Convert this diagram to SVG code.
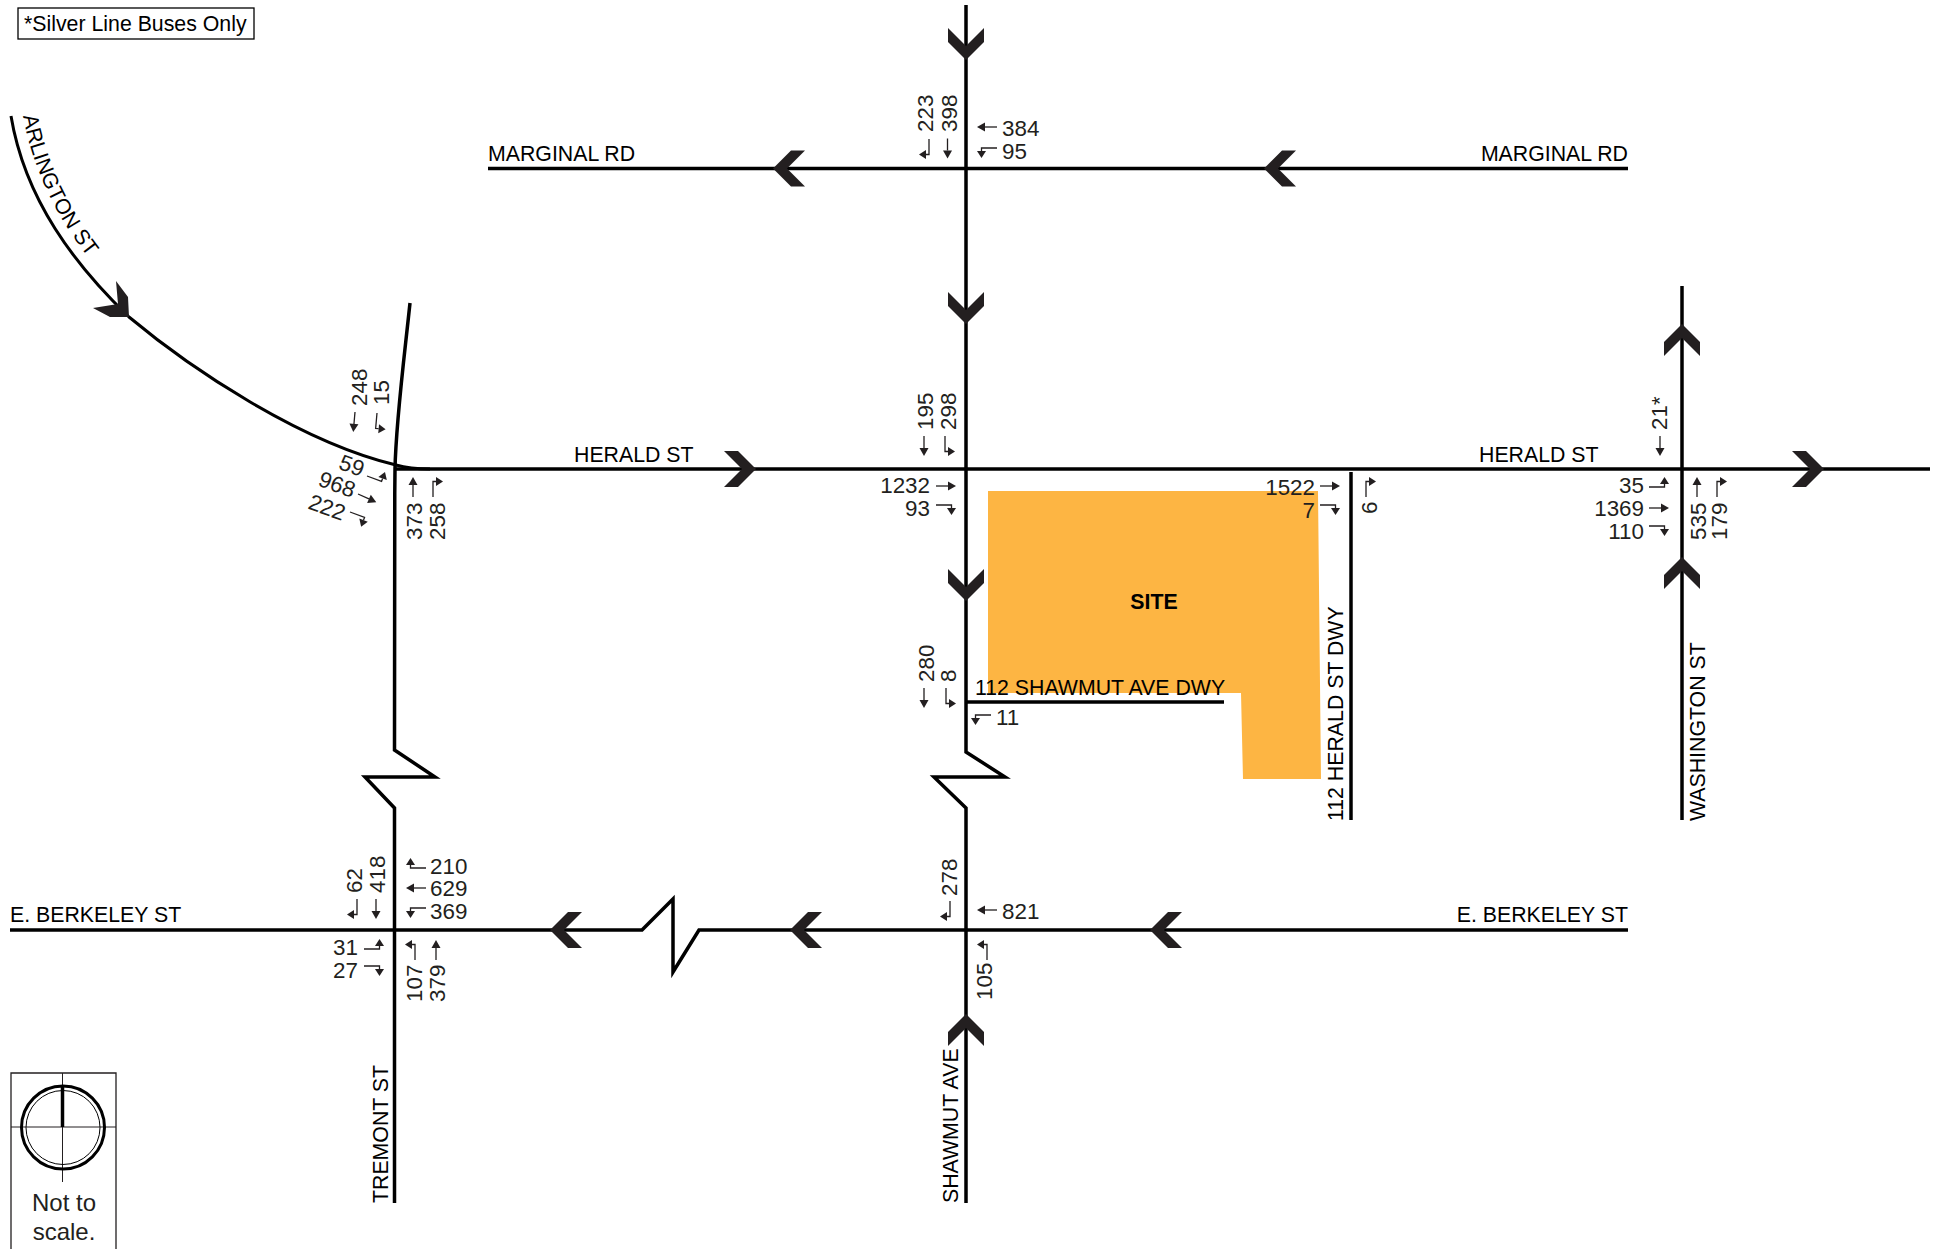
<svg xmlns="http://www.w3.org/2000/svg" width="1939" height="1249" viewBox="0 0 1939 1249">
<style>
text{font-family:"Liberation Sans",Arial,sans-serif;font-size:22.400px;fill:#231f20}
.l{font-size:21.300px;fill:#000}
.e{text-anchor:end}
.road{fill:none;stroke:#000;stroke-width:3.5;stroke-linejoin:miter}
.sa{fill:none;stroke:#231f20;stroke-width:1.3}
.sh{fill:#231f20;stroke:none}
.chev{fill:#231f20}
</style>
<defs>
<polygon id="cv" class="chev" points="0,0 -18,-18 -18,-32 0,-14 18,-32 18,-18"/>
<g id="th"><path class="sa" d="M0 0H12"/><polygon class="sh" points="12,-4.500 20,0 12,4.500"/></g>
<g id="tr"><path class="sa" d="M0 0H15.500V3"/><polygon class="sh" points="11,3 20,3 15.500,10"/></g>
</defs>
<rect width="1939" height="1249" fill="#fff"/>
<g id="site"><polygon points="988,491 1318,491 1321,779 1243,779 1241,693 988,693" fill="#fdb543"/><text x="1154" y="609" text-anchor="middle" style="font-weight:bold" class="l">SITE</text></g>
<g id="connectors">
<path class="road" d="M966 5V752L1005 777H934L966 808V1203"/>
<path class="road" d="M488 168.500H1628"/>
<path class="road" d="M396 469H1930"/>
<path class="road" d="M410 303C404 360 396 420 395 469C394 560 394.500 650 394.500 750L435 777H365L394.500 808V1203"/>
<path class="road" d="M10 930H642L673 899V972L699 930H1628"/>
<path class="road" d="M1682 286V820"/>
<path class="road" d="M1351 472V820"/>
<path class="road" d="M966 702H1224"/>
<path class="road" style="stroke-width:3" d="M11 116C25 200 75 265 129 317C190 368 300 442 396 465Q410 469 430 469"/>
</g>
<g id="chevrons">
<use href="#cv" x="966" y="60"/><use href="#cv" x="966" y="324"/><use href="#cv" x="966" y="601"/>
<use href="#cv" transform="translate(966,1014) rotate(180)"/>
<use href="#cv" transform="translate(1682,324) rotate(180)"/><use href="#cv" transform="translate(1682,557) rotate(180)"/>
<use href="#cv" transform="translate(773,168.500) rotate(90)"/><use href="#cv" transform="translate(1264,168.500) rotate(90)"/>
<use href="#cv" transform="translate(550,930) rotate(90)"/><use href="#cv" transform="translate(790,930) rotate(90)"/><use href="#cv" transform="translate(1150,930) rotate(90)"/>
<use href="#cv" transform="translate(756,469) rotate(-90)"/><use href="#cv" transform="translate(1824,469) rotate(-90)"/>
<polygon class="chev" points="129,317 128,297 116,281 118,304 93,308 110,317"/>
</g>
<g id="road-labels">
<text class="l" x="488" y="161">MARGINAL RD</text>
<text class="l e" x="1628" y="161">MARGINAL RD</text>
<text class="l" x="574" y="462">HERALD ST</text>
<text class="l" x="1479" y="462">HERALD ST</text>
<text class="l" x="10" y="922">E. BERKELEY ST</text>
<text class="l e" x="1628" y="922">E. BERKELEY ST</text>
<text class="l" transform="translate(388,1203) rotate(-90)">TREMONT ST</text>
<text class="l" transform="translate(958,1203) rotate(-90)">SHAWMUT AVE</text>
<text class="l" transform="translate(1705,821) rotate(-90)">WASHINGTON ST</text>
<text class="l" transform="translate(1343,821) rotate(-90)">112 HERALD ST DWY</text>
<text class="l" x="975" y="695">112 SHAWMUT AVE DWY</text>
<path id="arl" fill="none" d="M23 116C32 165 54 215 92 262"/>
<text class="l"><textPath href="#arl">ARLINGTON ST</textPath></text>
</g>
<g id="marginal-shawmut">
<text transform="translate(933,132) rotate(-90)">223</text><text transform="translate(957,132) rotate(-90)">398</text>
<use href="#tr" transform="translate(929,139) rotate(90)"/><use href="#th" transform="translate(947.500,138.500) rotate(90)"/>
<use href="#th" transform="translate(997,127) rotate(180)"/><text x="1002" y="136">384</text>
<use href="#tr" transform="translate(997,148) scale(-1,1)"/><text x="1002" y="159">95</text>
</g>
<g id="herald-tremont">
<text transform="translate(367,406) rotate(-90)">248</text><text transform="translate(389,405) rotate(-90)">15</text>
<use href="#th" transform="translate(355,412) rotate(95)"/><use href="#tr" transform="translate(377,413) rotate(95) scale(1,-1)"/>
<text class="e" transform="translate(361,477) rotate(20)">59</text><text class="e" transform="translate(352,498) rotate(20)">968</text><text class="e" transform="translate(342,521) rotate(20)">222</text>
<use href="#tr" transform="translate(367,476) rotate(20) scale(1,-1)"/><use href="#th" transform="translate(358,494) rotate(24)"/><use href="#tr" transform="translate(350,512) rotate(20)"/>
<text transform="translate(421.500,540) rotate(-90)">373</text><text transform="translate(444.500,540) rotate(-90)">258</text>
<use href="#th" transform="translate(413,497) rotate(-90)"/><use href="#tr" transform="translate(433,497) rotate(-90)"/>
</g>
<g id="herald-shawmut">
<text transform="translate(933,430) rotate(-90)">195</text><text transform="translate(956,430) rotate(-90)">298</text>
<use href="#th" transform="translate(924,436) rotate(90)"/><use href="#tr" transform="translate(945,436) rotate(90) scale(1,-1)"/>
<text class="e" x="930" y="493">1232</text><use href="#th" transform="translate(936,486)"/>
<text class="e" x="930" y="516">93</text><use href="#tr" transform="translate(936,505)"/>
</g>
<g id="shawmut-dwy">
<text transform="translate(934,682) rotate(-90)">280</text><text transform="translate(956,682) rotate(-90)">8</text>
<use href="#th" transform="translate(924,688) rotate(90)"/><use href="#tr" transform="translate(946,688) rotate(90) scale(1,-1)"/>
<use href="#tr" transform="translate(991,715) scale(-1,1)"/><text x="996" y="725">11</text>
</g>
<g id="herald-dwy">
<text class="e" x="1315" y="495">1522</text><use href="#th" transform="translate(1320,486)"/>
<text class="e" x="1315" y="518">7</text><use href="#tr" transform="translate(1320,505)"/>
<text transform="translate(1377,514) rotate(-90)">6</text><use href="#tr" transform="translate(1366,497) rotate(-90)"/>
</g>
<g id="herald-washington">
<text transform="translate(1667,430) rotate(-90)">21*</text><use href="#th" transform="translate(1660,436) rotate(90)"/>
<text class="e" x="1644" y="493">35</text><use href="#tr" transform="translate(1649,487) scale(1,-1)"/>
<text class="e" x="1644" y="516">1369</text><use href="#th" transform="translate(1649,508)"/>
<text class="e" x="1644" y="539">110</text><use href="#tr" transform="translate(1649,526)"/>
<text transform="translate(1705.500,540) rotate(-90)">535</text><text transform="translate(1727,540) rotate(-90)">179</text>
<use href="#th" transform="translate(1697,497) rotate(-90)"/><use href="#tr" transform="translate(1717,497) rotate(-90)"/>
</g>
<g id="berkeley-tremont">
<text transform="translate(362,893) rotate(-90)">62</text><text transform="translate(385,893) rotate(-90)">418</text>
<use href="#tr" transform="translate(357,899) rotate(90)"/><use href="#th" transform="translate(376,899) rotate(90)"/>
<text x="430" y="874">210</text><use href="#tr" transform="translate(426,868) rotate(180)"/>
<text x="430" y="896">629</text><use href="#th" transform="translate(426,888) rotate(180)"/>
<text x="430" y="919">369</text><use href="#tr" transform="translate(426,908) scale(-1,1)"/>
<text class="e" x="358" y="955">31</text><use href="#tr" transform="translate(364,949) scale(1,-1)"/>
<text class="e" x="358" y="978">27</text><use href="#tr" transform="translate(364,966)"/>
<text transform="translate(421.500,1002) rotate(-90)">107</text><text transform="translate(444.500,1002) rotate(-90)">379</text>
<use href="#tr" transform="translate(415,960) rotate(-90) scale(1,-1)"/><use href="#th" transform="translate(436,960) rotate(-90)"/>
</g>
<g id="berkeley-shawmut">
<text transform="translate(957,896) rotate(-90)">278</text><use href="#tr" transform="translate(950,901) rotate(90)"/>
<use href="#th" transform="translate(997,910) rotate(180)"/><text x="1002" y="919">821</text>
<text transform="translate(992,1000) rotate(-90)">105</text><use href="#tr" transform="translate(987,960) rotate(-90) scale(1,-1)"/>
</g>
<g id="note"><rect x="18" y="8" width="236" height="31" fill="none" stroke="#000" stroke-width="1.3"/><text class="l" x="24" y="31">*Silver Line Buses Only</text></g>
<g id="north">
<path d="M11 1249V1073H116V1249" fill="none" stroke="#231f20" stroke-width="1.3"/>
<path d="M11 1127H116M62.500 1073V1182" fill="none" stroke="#231f20" stroke-width="1"/>
<circle cx="63" cy="1127.500" r="41.500" fill="none" stroke="#000" stroke-width="3"/>
<circle cx="63" cy="1127.500" r="37" fill="none" stroke="#000" stroke-width="1"/>
<path d="M62.500 1086V1127" stroke="#000" stroke-width="3.500"/>
<text x="64" y="1211" text-anchor="middle" style="font-size:24px">Not to</text>
<text x="64" y="1240" text-anchor="middle" style="font-size:24px">scale.</text>
</g>
</svg>
